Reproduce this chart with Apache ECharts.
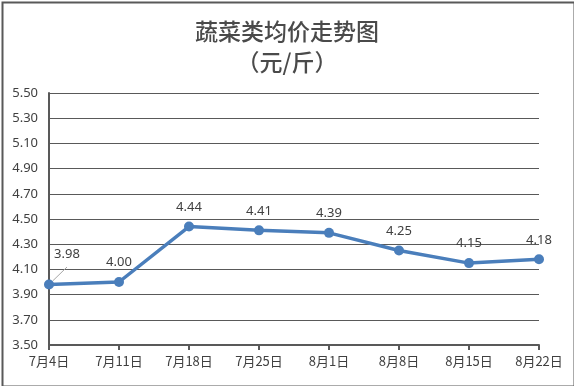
<!DOCTYPE html>
<html>
<head>
<meta charset="utf-8">
<script src="https://cdn.jsdelivr.net/npm/echarts@6/dist/echarts.min.js"></script>
<style>
html,body{margin:0;padding:0;background:#fff;}
#chart{width:574px;height:386px;}
</style>
</head>
<body>
<div id="chart"></div>
<script>
var titleText = "蔬菜类均价走势图\n（元/斤）";
var categories = ["7月4日","7月11日","7月18日","7月25日","8月1日","8月8日","8月15日","8月22日"];
var prices = [3.98, 4.00, 4.44, 4.41, 4.39, 4.25, 4.15, 4.18];
var yMin = 3.5, yMax = 5.5, yStep = 0.2;

var chart = echarts.init(document.getElementById('chart'), null, {renderer:'canvas'});
var seriesData = prices.map(function(v, i){
  if (i === 0) {
    return {value: v, label: {offset: [18, -11]}, labelLine: {show: true, lineStyle: {color: '#a6a6a6', width: 1}}};
  }
  return v;
});
chart.setOption({
  backgroundColor: '#ffffff',
  animation: false,
  title: {
    text: titleText,
    left: 'center',
    top: 11,
    textStyle: {
      fontFamily: '"Noto Sans CJK SC", sans-serif',
      fontSize: 23,
      fontWeight: 500,
      color: '#4a4a4a',
      lineHeight: 31
    }
  },
  graphic: [{
    type: 'rect',
    left: 0, top: 0,
    shape: {x: 1, y: 1, width: 572, height: 384},
    style: {fill: 'none', stroke: '#595959', lineWidth: 2},
    silent: true
  }],
  grid: {left: 49, right: 35, top: 93, bottom: 41},
  xAxis: {
    type: 'category',
    data: categories,
    boundaryGap: false,
    axisLine: {lineStyle: {color: '#595959', width: 2}},
    axisTick: {show: true, alignWithLabel: true, length: 5, lineStyle: {color: '#595959', width: 2}},
    axisLabel: {color: '#404040', fontSize: 13, margin: 10, fontFamily: '"Noto Sans CJK SC", sans-serif', interval: 0}
  },
  yAxis: {
    type: 'value',
    min: yMin, max: yMax, interval: yStep,
    axisLine: {show: true, lineStyle: {color: '#595959', width: 2}},
    axisTick: {show: false},
    splitLine: {lineStyle: {color: '#595959', width: 1}},
    axisLabel: {color: '#404040', fontSize: 13, margin: 11, fontFamily: '"Noto Sans", sans-serif',
      formatter: function(v){ return v.toFixed(2); }}
  },
  series: [{
    type: 'line',
    data: seriesData,
    symbol: 'circle',
    symbolSize: 10,
    lineStyle: {color: '#4a7ebb', width: 3.5},
    itemStyle: {color: '#4a7ebb'},
    label: {
      show: true, position: 'top', distance: 8,
      color: '#404040', fontSize: 13, fontFamily: '"Noto Sans", sans-serif',
      formatter: function(p){ return (typeof p.value === 'number' ? p.value : p.data.value).toFixed(2); }
    }
  }]
});
</script>
</body>
</html>
